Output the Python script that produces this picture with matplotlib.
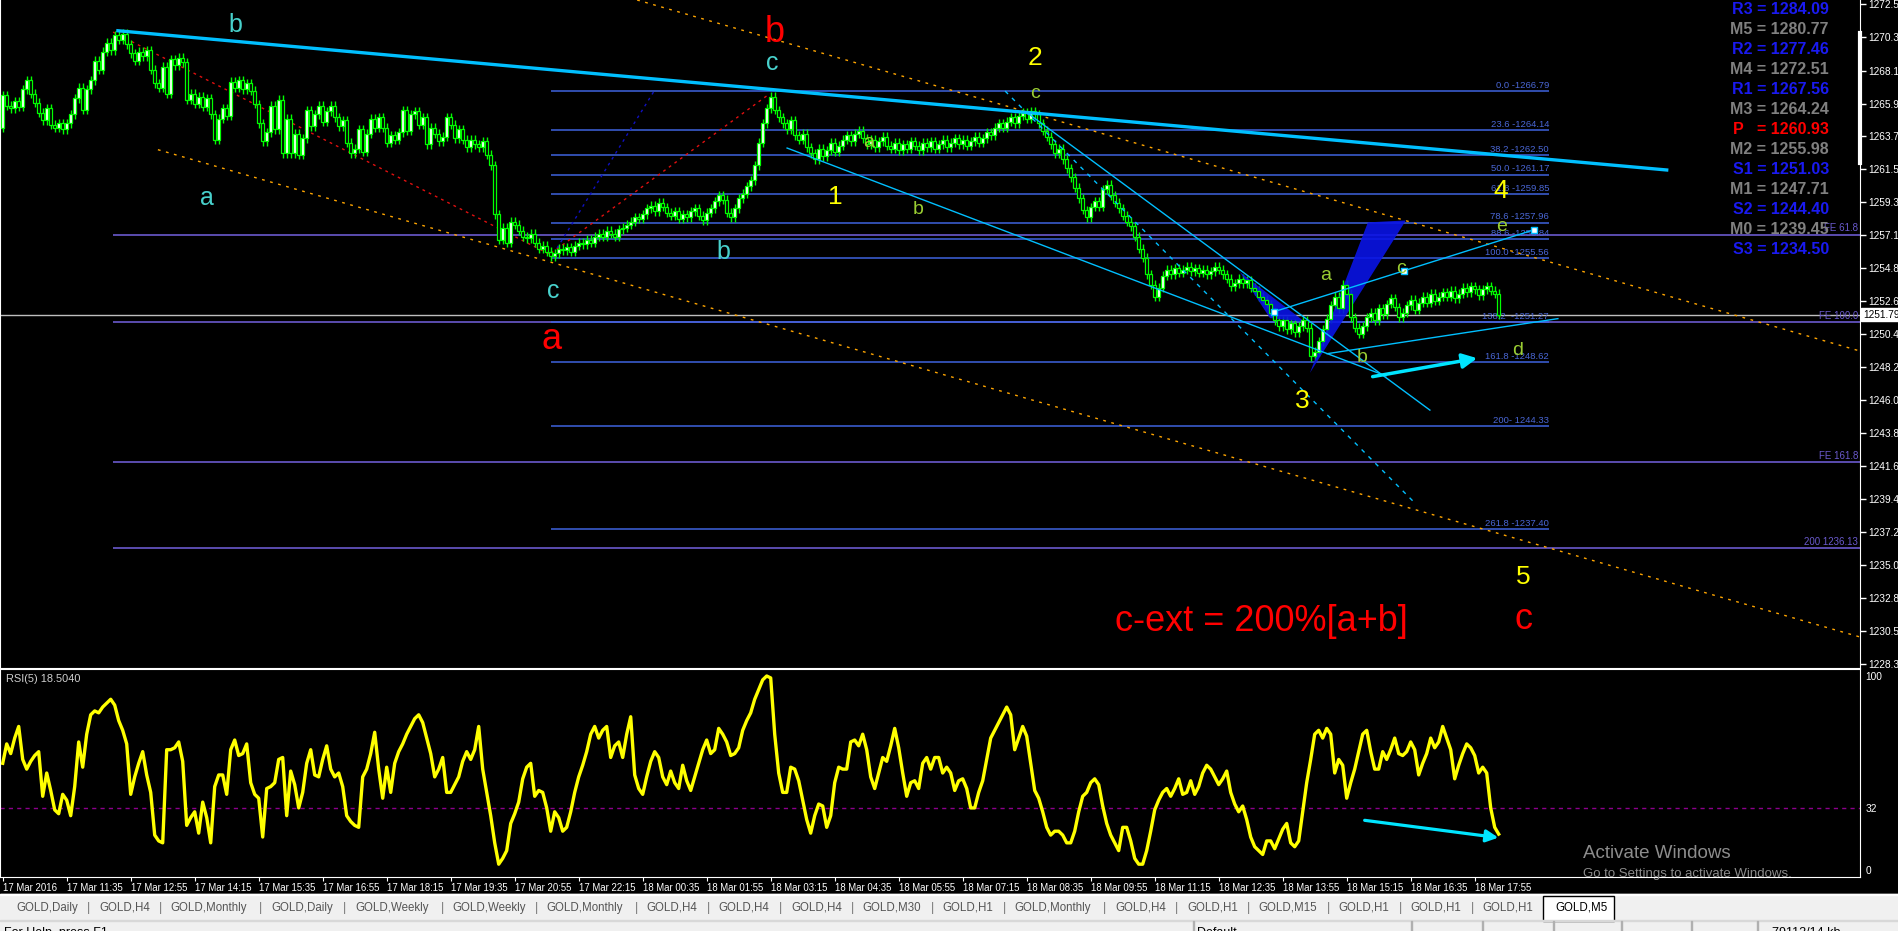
import numpy as np
import matplotlib
matplotlib.use("Agg")
import matplotlib.pyplot as plt
from matplotlib.patches import Rectangle, Polygon
from matplotlib.transforms import blended_transform_factory

plt.rcParams['font.family'] = ['Liberation Sans', 'DejaVu Sans']

# ---- GOLD M5 closes, one per bar ----
closes = [
    1266.5, 1265.8, 1265.6, 1266.1, 1265.7, 1266.9, 1267.5, 1266.6, 1266.0, 1265.3,
    1264.8, 1265.6, 1264.5, 1264.3, 1264.6, 1264.2, 1264.6, 1265.2, 1266.3, 1267.0,
    1265.5, 1266.9, 1267.5, 1268.8, 1268.2, 1269.4, 1270.0, 1269.5, 1270.5, 1270.2,
    1270.6, 1269.9, 1269.3, 1268.8, 1269.4, 1269.1, 1269.5, 1268.2, 1267.3, 1267.0,
    1268.4, 1266.6, 1268.9, 1268.5, 1269.0, 1268.7, 1266.2, 1266.6, 1265.9, 1266.4,
    1265.7, 1266.3, 1265.2, 1263.5, 1264.9, 1265.6, 1265.1, 1267.4, 1267.0, 1267.5,
    1266.9, 1267.3, 1266.8, 1265.9, 1264.6, 1263.4, 1264.0, 1265.8, 1264.2, 1266.2,
    1262.6, 1264.9, 1262.6, 1263.9, 1262.5, 1263.6, 1265.5, 1264.4, 1265.2, 1265.8,
    1264.7, 1265.4, 1265.8, 1265.0, 1264.4, 1264.8, 1263.3, 1262.6, 1262.9, 1264.2,
    1262.7, 1263.9, 1264.9, 1264.3, 1265.0, 1264.3, 1263.3, 1263.8, 1263.5, 1264.0,
    1265.5, 1264.1, 1265.2, 1265.4, 1264.5, 1265.0, 1263.2, 1264.3, 1263.9, 1263.4,
    1263.7, 1265.0, 1264.5, 1263.6, 1264.2, 1263.5, 1263.0, 1263.5, 1263.2, 1263.0,
    1263.4, 1262.5, 1261.8, 1258.5, 1256.8, 1257.6, 1256.6, 1258.0, 1257.8, 1257.4,
    1257.0, 1256.9, 1257.2, 1256.6, 1256.2, 1256.4, 1256.0, 1255.7, 1255.9, 1256.2,
    1256.1, 1256.3, 1256.0, 1256.4, 1256.6, 1256.5, 1256.8, 1256.6, 1257.0, 1257.2,
    1257.0, 1257.4, 1257.2, 1257.0, 1257.5, 1257.6, 1257.8, 1258.0, 1258.3, 1258.2,
    1258.5, 1258.9, 1259.1, 1258.7, 1259.3, 1259.0, 1258.6, 1258.4, 1258.7, 1258.2,
    1258.5, 1258.3, 1258.7, 1258.9, 1258.4, 1258.1, 1258.6, 1258.9, 1259.4, 1259.8,
    1259.5, 1258.6, 1258.3, 1258.9, 1259.6, 1259.9, 1260.4, 1260.8, 1261.8, 1263.3,
    1264.6, 1265.6, 1266.4, 1265.5, 1265.0, 1264.6, 1264.2, 1264.8, 1263.8, 1263.5,
    1263.9, 1263.0, 1262.6, 1262.2, 1262.9, 1262.4, 1262.8, 1263.3, 1262.7, 1263.1,
    1263.5, 1263.8, 1263.4, 1263.9, 1264.1, 1263.6, 1263.2, 1263.5, 1263.0, 1263.4,
    1263.7, 1263.1, 1262.9, 1263.3, 1262.8, 1263.2, 1262.9, 1263.4, 1263.1, 1262.8,
    1263.3, 1263.0, 1263.4, 1262.9, 1263.2, 1263.5, 1263.0, 1263.3, 1263.6, 1263.2,
    1263.5, 1263.1, 1263.4, 1263.7, 1263.3, 1263.6, 1264.0, 1263.8, 1264.3, 1264.6,
    1264.3, 1264.7, 1265.0, 1264.6, 1265.1, 1265.3, 1264.9, 1265.4, 1265.2, 1264.6,
    1264.1, 1263.7, 1263.2, 1262.6, 1262.9, 1262.2, 1261.6, 1261.0, 1260.3, 1259.6,
    1258.8, 1258.3, 1259.0, 1259.4, 1259.0, 1260.2, 1260.5, 1259.8, 1259.3, 1258.9,
    1258.4, 1258.0, 1257.7, 1257.0, 1256.2, 1255.6, 1254.5, 1253.8, 1253.0, 1253.6,
    1254.4, 1254.8, 1254.5, 1254.9, 1254.6, 1254.8, 1255.0, 1254.7, 1254.9, 1254.6,
    1254.8, 1254.5, 1254.7, 1255.0, 1254.8, 1254.5, 1254.2, 1253.7, 1253.9, 1254.2,
    1253.9, 1254.1, 1253.6, 1253.4, 1253.0, 1252.8, 1252.5, 1251.9, 1251.4, 1251.0,
    1251.4, 1250.8, 1251.2, 1250.6, 1251.0, 1251.4, 1250.9, 1249.0, 1249.3, 1250.0,
    1250.8, 1251.5, 1252.4, 1253.0, 1252.2, 1253.8, 1253.2, 1251.6, 1250.9, 1250.5,
    1251.0, 1251.6, 1251.9, 1251.4, 1252.2, 1251.8, 1252.5, 1252.9, 1252.3, 1251.6,
    1251.9, 1252.4, 1252.8, 1252.1, 1252.6, 1253.0, 1252.6, 1253.2, 1252.7, 1253.0,
    1253.3, 1253.0, 1253.4, 1252.9, 1253.2, 1253.6, 1253.3, 1253.7, 1253.5, 1253.1,
    1253.5, 1253.7, 1253.4, 1253.2, 1251.79,
]
first_open = 1264.3

# RSI(5), one per bar
rsi = [
    55, 65, 60, 68, 74, 57, 52, 56, 59, 61, 38, 50, 41, 31, 29, 39, 36, 28, 43, 66,
    53, 70, 80, 82, 81, 84, 86, 88, 85, 77, 72, 65, 39, 48, 55, 61, 49, 40, 18, 15,
    14, 62, 62, 63, 66, 56, 23, 27, 30, 19, 35, 27, 14, 43, 49, 49, 39, 62, 67, 59,
    60, 65, 45, 39, 37, 17, 42, 43, 45, 57, 58, 28, 51, 44, 32, 40, 55, 62, 49, 48,
    57, 64, 52, 48, 50, 43, 28, 25, 23, 22, 48, 52, 60, 71, 52, 37, 53, 40, 55, 61,
    65, 70, 74, 78, 80, 76, 68, 60, 48, 52, 58, 40, 40, 44, 48, 56, 61, 57, 62, 74,
    52, 40, 28, 14, 3, 6, 10, 24, 29, 35, 47, 53, 55, 38, 41, 40, 32, 20, 30, 27,
    20, 22, 30, 40, 48, 54, 61, 70, 74, 68, 72, 74, 58, 64, 66, 58, 70, 79, 49, 42,
    39, 48, 56, 61, 58, 48, 44, 51, 45, 42, 54, 46, 41, 48, 55, 62, 67, 60, 62, 73,
    70, 66, 59, 60, 63, 72, 77, 81, 88, 93, 98, 100, 99, 70, 50, 40, 40, 53, 52, 46,
    36, 26, 19, 28, 34, 33, 22, 28, 45, 53, 52, 52, 66, 67, 64, 70, 62, 48, 42, 50,
    58, 56, 64, 73, 63, 50, 38, 45, 46, 42, 55, 58, 52, 58, 58, 50, 53, 50, 41, 46,
    47, 42, 32, 32, 40, 46, 57, 68, 72, 76, 80, 84, 80, 62, 68, 74, 69, 55, 41, 37,
    30, 22, 18, 20, 20, 18, 14, 14, 20, 30, 38, 40, 45, 47, 44, 33, 24, 18, 14, 10,
    22, 22, 15, 6, 3, 3, 10, 20, 31, 36, 40, 42, 38, 42, 47, 39, 40, 46, 39, 43,
    50, 54, 52, 48, 44, 47, 51, 40, 34, 30, 33, 26, 17, 12, 10, 8, 15, 15, 11, 16,
    21, 24, 14, 12, 15, 30, 45, 57, 70, 72, 68, 73, 70, 50, 57, 54, 37, 45, 52, 61,
    70, 72, 61, 52, 52, 61, 57, 62, 68, 60, 59, 61, 66, 62, 49, 55, 60, 68, 63, 66,
    74, 68, 62, 47, 54, 60, 65, 63, 59, 50, 53, 50, 32, 22, 18.5,
]

price_ticks = [1272.58, 1270.38, 1268.13, 1265.93, 1263.73, 1261.53, 1259.33, 1257.13,
               1254.88, 1252.68, 1250.48, 1248.28, 1246.08, 1243.83, 1241.63, 1239.43,
               1237.23, 1235.03, 1232.83, 1230.58, 1228.38]
last_price = 1251.79

time_labels = ["17 Mar 2016", "17 Mar 11:35", "17 Mar 12:55", "17 Mar 14:15", "17 Mar 15:35",
               "17 Mar 16:55", "17 Mar 18:15", "17 Mar 19:35", "17 Mar 20:55", "17 Mar 22:15",
               "18 Mar 00:35", "18 Mar 01:55", "18 Mar 03:15", "18 Mar 04:35", "18 Mar 05:55",
               "18 Mar 07:15", "18 Mar 08:35", "18 Mar 09:55", "18 Mar 11:15", "18 Mar 12:35",
               "18 Mar 13:55", "18 Mar 15:15", "18 Mar 16:35", "18 Mar 17:55"]
bars_per_label = 16

# fibo retracement (bar start, bar end)
fib_span = (137.1, 386.6)
fib_levels = [1266.79, 1264.14, 1262.50, 1261.17, 1259.85, 1257.96, 1256.84, 1255.56,
              1251.27, 1248.62, 1244.33, 1237.40]
fib_texts = ["0.0 -1266.79", "23.6 -1264.14", "38.2 -1262.50", "50.0 -1261.17",
             "61.8 -1259.85", "78.6 -1257.96", "88.6 -1256.84", "100.0 -1255.56",
             "138.2  -1251.27", "161.8 -1248.62", "200- 1244.33", "261.8 -1237.40"]

# fibo expansion lines
fe_start = 27.6
fe_levels = [1257.13, 1251.27, 1241.89, 1236.13]
fe_texts = ["FE 61.8", "FE 100.0", "FE 161.8", "200 1236.13"]

# pivot table
pivot_names = ["R3", "M5", "R2", "M4", "R1", "M3", "P  ", "M2", "S1", "M1", "S2", "M0", "S3"]
pivot_values = [1284.09, 1280.77, 1277.46, 1272.51, 1267.56, 1264.24, 1260.93,
                1255.98, 1251.03, 1247.71, 1244.40, 1239.45, 1234.50]

# trend lines: (bar0, price0, bar1, price1)
thick_line = (28.8, 1270.81, 416.0, 1261.48)
red_dotted = [(27.6, 1270.72, 137.1, 1255.78), (137.1, 1255.9, 191.8, 1266.6)]
navy_dotted = (138.6, 1256.25, 162.8, 1266.75)
orange_dotted = [(38.8, 1262.84, 464.3, 1230.19), (158.6, 1272.87, 464.3, 1249.35)]
cyan_thin = [(196.1, 1262.95, 345.8, 1247.68), (256.6, 1265.22, 356.8, 1245.39),
             (317.8, 1251.98, 382.8, 1257.47), (331.1, 1249.17, 388.8, 1251.52)]
cyan_dotted = [(250.6, 1266.77, 352.8, 1239.23)]
square_pts = [(317.8, 1251.98), (350.3, 1254.72), (382.8, 1257.47)]
pattern_a = [(309.3, 1254.64), (325.6, 1251.29), (316.8, 1251.56)]
pattern_b = [(326.8, 1247.88), (350.8, 1258.1), (341.3, 1257.97)]
arrow_price = (341.8, 1247.6, 369.3, 1248.9)
arrow_rsi = (339.8, 25.8, 374.6, 16.5)

# wave labels: text, bar, price, style
wave_labels = [
    ("b", 58.1, 1271.19, "cy"), ("a", 51.1, 1259.6, "cy"), ("c", 137.6, 1253.37, "cy"),
    ("b", 180.1, 1255.98, "cy"), ("c", 192.3, 1268.65, "cy"),
    ("a", 137.1, 1250.15, "red"), ("b", 193.1, 1270.66, "red"), ("c", 380.1, 1231.34, "red"),
    ("2", 258.1, 1268.98, "yel"), ("1", 208.1, 1259.67, "yel"), ("3", 325.0, 1245.97, "yel"),
    ("4", 374.6, 1260.07, "yel"), ("5", 380.1, 1234.22, "yel"),
    ("c", 258.1, 1266.63, "yg"), ("a", 216.6, 1263.35, "yg"), ("b", 228.8, 1258.86, "yg"),
    ("e", 374.8, 1257.72, "yg"), ("a", 330.8, 1254.4, "yg"), ("c", 349.6, 1254.9, "yg"),
    ("b", 339.8, 1248.93, "yg"), ("d", 378.8, 1249.4, "yg"),
]
note_text = ("c-ext = 200%[a+b]", 314.8, 1231.2)

tab_names = ["GOLD,Daily", "GOLD,H4", "GOLD,Monthly", "GOLD,Daily", "GOLD,Weekly", "GOLD,Weekly",
             "GOLD,Monthly", "GOLD,H4", "GOLD,H4", "GOLD,H4", "GOLD,M30", "GOLD,H1",
             "GOLD,Monthly", "GOLD,H4", "GOLD,H1", "GOLD,M15", "GOLD,H1", "GOLD,H1",
             "GOLD,H1", "GOLD,M5"]
tab_x = [16, 99, 170, 271, 355, 452, 546, 646, 718, 791, 862, 942, 1014, 1115, 1187,
         1258, 1338, 1410, 1482, 1555]

styles = {"cy": ("#48D1CC", 18), "red": ("#FF0000", 26), "yel": ("#FFFF00", 19),
          "yg": ("#9ACD32", 14)}

# ---------------------------------------------------------------
W, H = 1898, 931
fig = plt.figure(figsize=(W / 100, H / 100), dpi=100, facecolor="black")


def box(x0, y0, x1, y1):
    return [x0 / W, 1 - y1 / H, (x1 - x0) / W, (y1 - y0) / H]


ax = fig.add_axes(box(0, 0, 1860, 668), facecolor="black")
rx = fig.add_axes(box(0, 669, 1860, 877), facecolor="black", sharex=ax)

n = min(len(closes), len(rsi))
idx = np.arange(n)
c = np.array(closes[:n])
o = np.r_[first_open, c[:-1]]
hi = np.maximum(o, c) + 0.3
lo = np.minimum(o, c) - 0.3
up = c >= o
ax.vlines(idx, lo, hi, color="#00FF00", lw=1, zorder=3)
body = np.maximum(np.abs(c - o), 0.06)
ax.bar(idx[up], body[up], bottom=o[up], width=0.72, color="white",
       edgecolor="#00FF00", lw=0.9, zorder=4)
ax.bar(idx[~up], body[~up], bottom=c[~up], width=0.72, color="black",
       edgecolor="#00FF00", lw=0.9, zorder=4)

ax.set_xlim(-0.675, 464.325)
ax.set_ylim(1228.11, 1272.87)

# horizontal levels
ax.axhline(last_price, color="#BEBEBE", lw=1, zorder=2)
for lv, tx in zip(fe_levels, fe_texts):
    ax.hlines(lv, fe_start, 464.3, color="#6A5ACD", lw=1.2, zorder=2)
    ax.text(463.8, lv + 0.1, tx, color="#6A5ACD", fontsize=7, ha="right", va="bottom")
for lv, tx in zip(fib_levels, fib_texts):
    ax.hlines(lv, fib_span[0], fib_span[1], color="#3E63DD", lw=1.1, zorder=2)
    ax.text(fib_span[1], lv + 0.08, tx, color="#4A67D6", fontsize=6.8, ha="right", va="bottom")

# trend lines
ax.plot(thick_line[::2], thick_line[1::2], color="#00BFFF", lw=2.4, zorder=5)
for ln in red_dotted:
    ax.plot(ln[::2], ln[1::2], color="#E01010", lw=1, ls=(0, (2, 3)), zorder=2)
ax.plot(navy_dotted[::2], navy_dotted[1::2], color="#1010C0", lw=1, ls=(0, (2, 3)), zorder=2)
for ln in orange_dotted:
    ax.plot(ln[::2], ln[1::2], color="#FFA500", lw=1, ls=(0, (2, 4)), zorder=2)
for ln in cyan_thin:
    ax.plot(ln[::2], ln[1::2], color="#00BFFF", lw=1, zorder=5)
for ln in cyan_dotted:
    ax.plot(ln[::2], ln[1::2], color="#00BFFF", lw=1, ls=(0, (3, 4)), zorder=5)
ax.add_patch(Polygon(pattern_a, closed=True, color="#0A14E6", alpha=0.9, lw=0, zorder=3.5))
ax.add_patch(Polygon(pattern_b, closed=True, color="#0A14E6", alpha=0.9, lw=0, zorder=3.5))
sx, sy = zip(*square_pts)
ax.scatter(sx, sy, marker="s", s=22, facecolor="white", edgecolor="#00BFFF", lw=1, zorder=7)
ax.annotate("", xy=arrow_price[2:], xytext=arrow_price[:2],
            arrowprops=dict(arrowstyle="-|>", color="#00E5FF", lw=2.5, mutation_scale=22),
            zorder=8)

for tx, bx, py, st in wave_labels:
    col, fs = styles[st]
    ax.text(bx, py, tx, color=col, fontsize=fs, ha="center", va="center", zorder=9)
ax.text(note_text[1], note_text[2], note_text[0], color="#FF0000", fontsize=26,
        ha="center", va="center", zorder=9)

# price axis
ax.yaxis.tick_right()
ax.set_yticks(price_ticks)
ax.set_yticklabels([f"{v:.2f}" for v in price_ticks])
ax.tick_params(axis="y", colors="white", labelsize=7.3, length=4, width=1, pad=2)
ax.tick_params(axis="x", bottom=False, labelbottom=False)
for s in ["left", "right", "bottom"]:
    ax.spines[s].set_color("white")
ax.spines["top"].set_visible(False)
trans = blended_transform_factory(ax.transAxes, ax.transData)
ax.plot([1.0, 1.0], [1270.67, 1261.96], transform=trans, color="white", lw=3,
        clip_on=False, zorder=10)
ax.text(1.0015, last_price, f"{last_price:.2f}", transform=trans, color="black",
        fontsize=7.3, ha="left", va="center",
        bbox=dict(boxstyle="square,pad=0.15", fc="white", ec="white"), zorder=11)

# RSI panel
rx.plot(idx, rsi[:n], color="#FFFF00", lw=2.4, zorder=3)
rx.axhline(32, color="#8B008B", lw=1, ls=(0, (3, 3)))
rx.set_ylim(-3.6, 103.6)
rx.yaxis.tick_right()
rx.set_yticks([0, 32, 100])
rx.set_yticklabels(["0", "32", "100"])
rx.tick_params(axis="y", colors="white", labelsize=7.3, length=0, pad=4)
tick_pos = [k * bars_per_label for k in range(len(time_labels))]
rx.set_xticks(tick_pos)
rx.set_xticklabels(time_labels)
rx.tick_params(axis="x", colors="white", labelsize=6.9, length=3, pad=1)
for lb in rx.get_xticklabels():
    lb.set_ha("left")
for s in rx.spines.values():
    s.set_color("white")
rx.text(0.003, 0.975, "RSI(5) 18.5040", transform=rx.transAxes, color="#D0D0D0",
        fontsize=7.9, ha="left", va="top")
rx.annotate("", xy=arrow_rsi[2:], xytext=arrow_rsi[:2],
            arrowprops=dict(arrowstyle="-|>", color="#00E5FF", lw=2.3, mutation_scale=18))

# pivot table
for k, (nm, val) in enumerate(zip(pivot_names, pivot_values)):
    col = "#FF0000" if nm.startswith("P") else ("#808080" if nm.startswith("M") else "#1A1AF0")
    fig.text(1829 / W, 1 - (10.0 + 19.97 * k) / H, f"{nm} = {val:.2f}", color=col,
             fontsize=11.5, fontweight="bold", ha="right", va="center")

# watermark
fig.text(1583 / W, 1 - 853 / H, "Activate Windows", color="#8C8C8C", fontsize=13.5,
         ha="left", va="center")
fig.text(1583 / W, 1 - 874 / H, "Go to Settings to activate Windows.", color="#8C8C8C",
         fontsize=9.5, ha="left", va="center")

# tab strip and status bar
fig.add_artist(Rectangle((0, 0), 1, (H - 894) / H, transform=fig.transFigure,
                         color="#F0F0F0", zorder=0))
fig.add_artist(Rectangle((0, (H - 895) / H), 1, 1 / H, transform=fig.transFigure,
                         color="white", zorder=1))
for k, (nm, x) in enumerate(zip(tab_names, tab_x)):
    last = k == len(tab_names) - 1
    fig.text(x / W, 1 - 908 / H, nm, color="black" if last else "#555555", fontsize=8.3,
             ha="left", va="center")
    if k > 0 and not last:
        fig.text((x - 10) / W, 1 - 908 / H, "|", color="#777777", fontsize=9,
                 ha="center", va="center")
fig.add_artist(Rectangle((1543 / W, (H - 921) / H), 71 / W, 25 / H, transform=fig.transFigure,
                         fc="white", ec="black", lw=1, zorder=1))
fig.add_artist(Rectangle((0, (H - 921) / H), 1, 1 / H, transform=fig.transFigure,
                         color="#D8D8D8", zorder=1))
for x in [1193, 1411, 1482, 1553, 1621, 1691, 1757]:
    fig.add_artist(Rectangle((x / W, 0), 1 / W, 10 / H, transform=fig.transFigure,
                             color="#B0B0B0", zorder=1))
fig.text(4 / W, -2 / H, "For Help, press F1", color="black", fontsize=9, ha="left", va="center")
fig.text(1197 / W, -2 / H, "Default", color="black", fontsize=9, ha="left", va="center")
fig.text(1772 / W, -2 / H, "79112/14 kb", color="black", fontsize=9, ha="left", va="center")

fig.savefig("out.png", dpi=100, facecolor="black")
